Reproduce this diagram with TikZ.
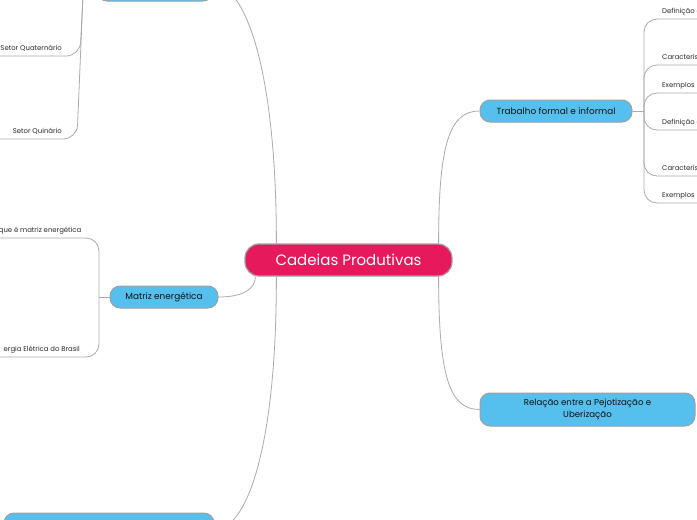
\documentclass[tikz,border=0pt]{standalone}
\usepackage{fontspec}
\setmainfont{Poppins}
\definecolor{redc}{HTML}{E7195D}
\definecolor{bluec}{HTML}{55C0EE}
\definecolor{bordc}{HTML}{A0A0A0}
\definecolor{connc}{HTML}{ABABAB}
\definecolor{txtc}{HTML}{111111}
\definecolor{leafc}{HTML}{2A2A2A}
\begin{document}
\begin{tikzpicture}[x=1pt,y=-1pt,
  conn/.style={draw=connc, line width=0.8pt},
  central/.style={draw=bordc, line width=1.2pt, fill=redc, rounded corners=14pt, inner sep=0pt, text=white, font=\fontsize{15}{17}\selectfont},
  topic/.style={draw=bordc, line width=1pt, fill=bluec, rounded corners=10pt, inner sep=0pt, align=center, text=txtc, font=\fontsize{8.9}{12}\selectfont},
  leaf/.style={inner xsep=0pt, inner ysep=3.4pt, text height=5pt, text depth=1.6pt, font=\fontsize{6.9}{8}\selectfont, text=leafc}]
\useasboundingbox (0,0) rectangle (697,520);
\clip (0,0) rectangle (697,520);
\fill[white] (0,0) rectangle (697,520);

\node[central, minimum width=207pt, minimum height=32pt] (cp) at (348.5,260) {Cadeias Produtivas};
\node[topic, minimum width=152pt, minimum height=22pt] (trab) at (556,111) {Trabalho formal e informal};
\node[topic, minimum width=108pt, minimum height=22pt] (matriz) at (164,297) {Matriz energética};
\node[topic, minimum width=215pt, minimum height=33pt, font=\fontsize{8.6}{12}\selectfont] (rel) at (587.5,409.5) {Relação entre a Pejotização e\\Uberização};
\node[topic, minimum width=116pt, minimum height=33pt] (topbox) at (155,-15.5) {};
\node[topic, minimum width=210pt, minimum height=34pt] (botbox) at (109,530) {};

\draw[conn] ([xshift=32pt]cp.north west) .. controls +(0,-180) and +(30,0) .. (topbox.east);
\draw[conn] ([xshift=32pt]cp.south west) .. controls +(0,180) and +(30,0) .. (botbox.east);
\draw[conn] ([xshift=-14pt]cp.north east) .. controls +(0,-100) and +(-30,0) .. (trab.west);
\draw[conn] ([xshift=-14pt]cp.south east) .. controls +(0,100) and +(-30,0) .. (rel.west);
\draw[conn] (matriz.east) .. controls +(25,0) and +(0,12) .. ([xshift=11pt]cp.south west);

% right leaves
\coordinate (hubR) at (644,111);
\coordinate (edgeR) at (705,0);
\node[leaf, anchor=south west] (r1) at (662,19) {Definição d};
\node[leaf, anchor=south west] (r2) at (662,65) {Caracterís};
\node[leaf, anchor=south west] (r3) at (662,93) {Exemplos};
\node[leaf, anchor=south west] (r4) at (662,130) {Definição d};
\node[leaf, anchor=south west] (r5) at (662,176) {Caracterís};
\node[leaf, anchor=south west] (r6) at (662,203) {Exemplos};
\draw[conn] (trab.east) -- (hubR);
\foreach \n in {r1,r2,r3,r4,r5,r6}
  \draw[conn, rounded corners=13pt] (hubR) |- (\n.south -| edgeR);

% matriz leaves
\coordinate (hubL) at (99,297);
\coordinate (edgeL) at (-8,0);
\node[leaf, anchor=south east] (m1) at (81.5,238) {que é matriz energética};
\node[leaf, anchor=south east] (m2) at (80,357) {ergia Elétrica do Brasil};
\draw[conn] (matriz.west) -- (hubL);
\foreach \n in {m1,m2}
  \draw[conn, rounded corners=13pt] (hubL) |- (\n.south -| edgeL);

% setor leaves
\coordinate (hubS) at (83,-5);
\coordinate (bendQ) at (80,56);
\coordinate (bendQi) at (77,139);
\node[leaf, anchor=south east] (s1) at (62,56) {Setor Quaternário};
\node[leaf, anchor=south east] (s2) at (62,139) {Setor Quinário};
\draw[conn, rounded corners=14pt] (hubS) -- (bendQ) -- (s1.south -| edgeL);
\draw[conn, rounded corners=14pt] (hubS) -- (bendQi) -- (s2.south -| edgeL);
\end{tikzpicture}
\end{document}
